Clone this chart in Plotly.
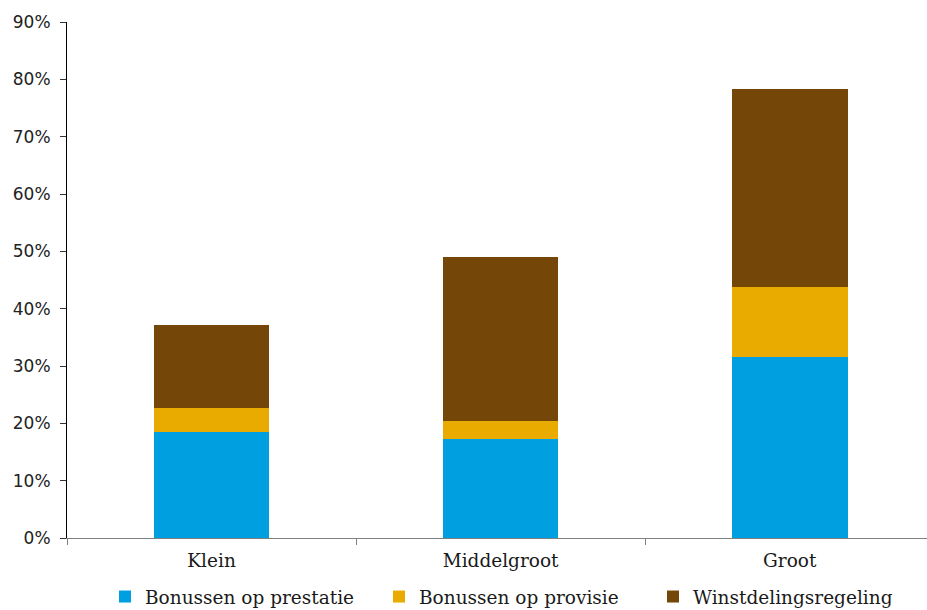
import plotly.graph_objects as go

# Categories and stacked shares (fraction of firms)
categories = ["Klein", "Middelgroot", "Groot"]
prestatie = [0.185, 0.173, 0.315]
provisie = [0.042, 0.031, 0.123]
winstdeling = [0.144, 0.286, 0.346]

series = [
    ("Bonussen op prestatie", prestatie, "#009FDF"),
    ("Bonussen op provisie", provisie, "#E9AB00"),
    ("Winstdelingsregeling", winstdeling, "#744709"),
]

fig = go.Figure()
for name, vals, color in series:
    fig.add_trace(go.Bar(
        x=categories, y=vals, name=name,
        marker=dict(color=color, line=dict(width=0)),
        width=0.4,
    ))

serif = "DejaVu Serif"
sans = "DejaVu Sans"

fig.update_layout(
    barmode="stack",
    width=927, height=610,
    margin=dict(l=67, r=0, t=22, b=72),
    plot_bgcolor="white", paper_bgcolor="white",
    showlegend=True,
    legend=dict(
        orientation="h",
        xref="container", yref="container",
        x=105 / 927, xanchor="left",
        y=1 - 597 / 610, yanchor="middle",
        font=dict(family=serif, size=18.5, color="#1a1a1a"),
        entrywidth=229, entrywidthmode="pixels",
        traceorder="normal",
    ),
    xaxis=dict(
        range=[-0.5, 2.475],
        showline=True, linecolor="#808080", linewidth=1,
        ticks="outside", tickson="boundaries", ticklen=6,
        tickcolor="#808080",
        tickfont=dict(family=serif, size=18.5, color="#1a1a1a"),
        ticklabelstandoff=6,
        showgrid=False, zeroline=False,
    ),
    yaxis=dict(
        range=[0, 0.9], dtick=0.1, tickformat=".0%",
        showline=True, linecolor="black", linewidth=1,
        ticks="outside", ticklen=6, tickcolor="#333333",
        tickfont=dict(family=sans, size=17, color="#222222"),
        ticklabelstandoff=6,
        showgrid=False, zeroline=False,
    ),
)

fig.write_html("out.html")
